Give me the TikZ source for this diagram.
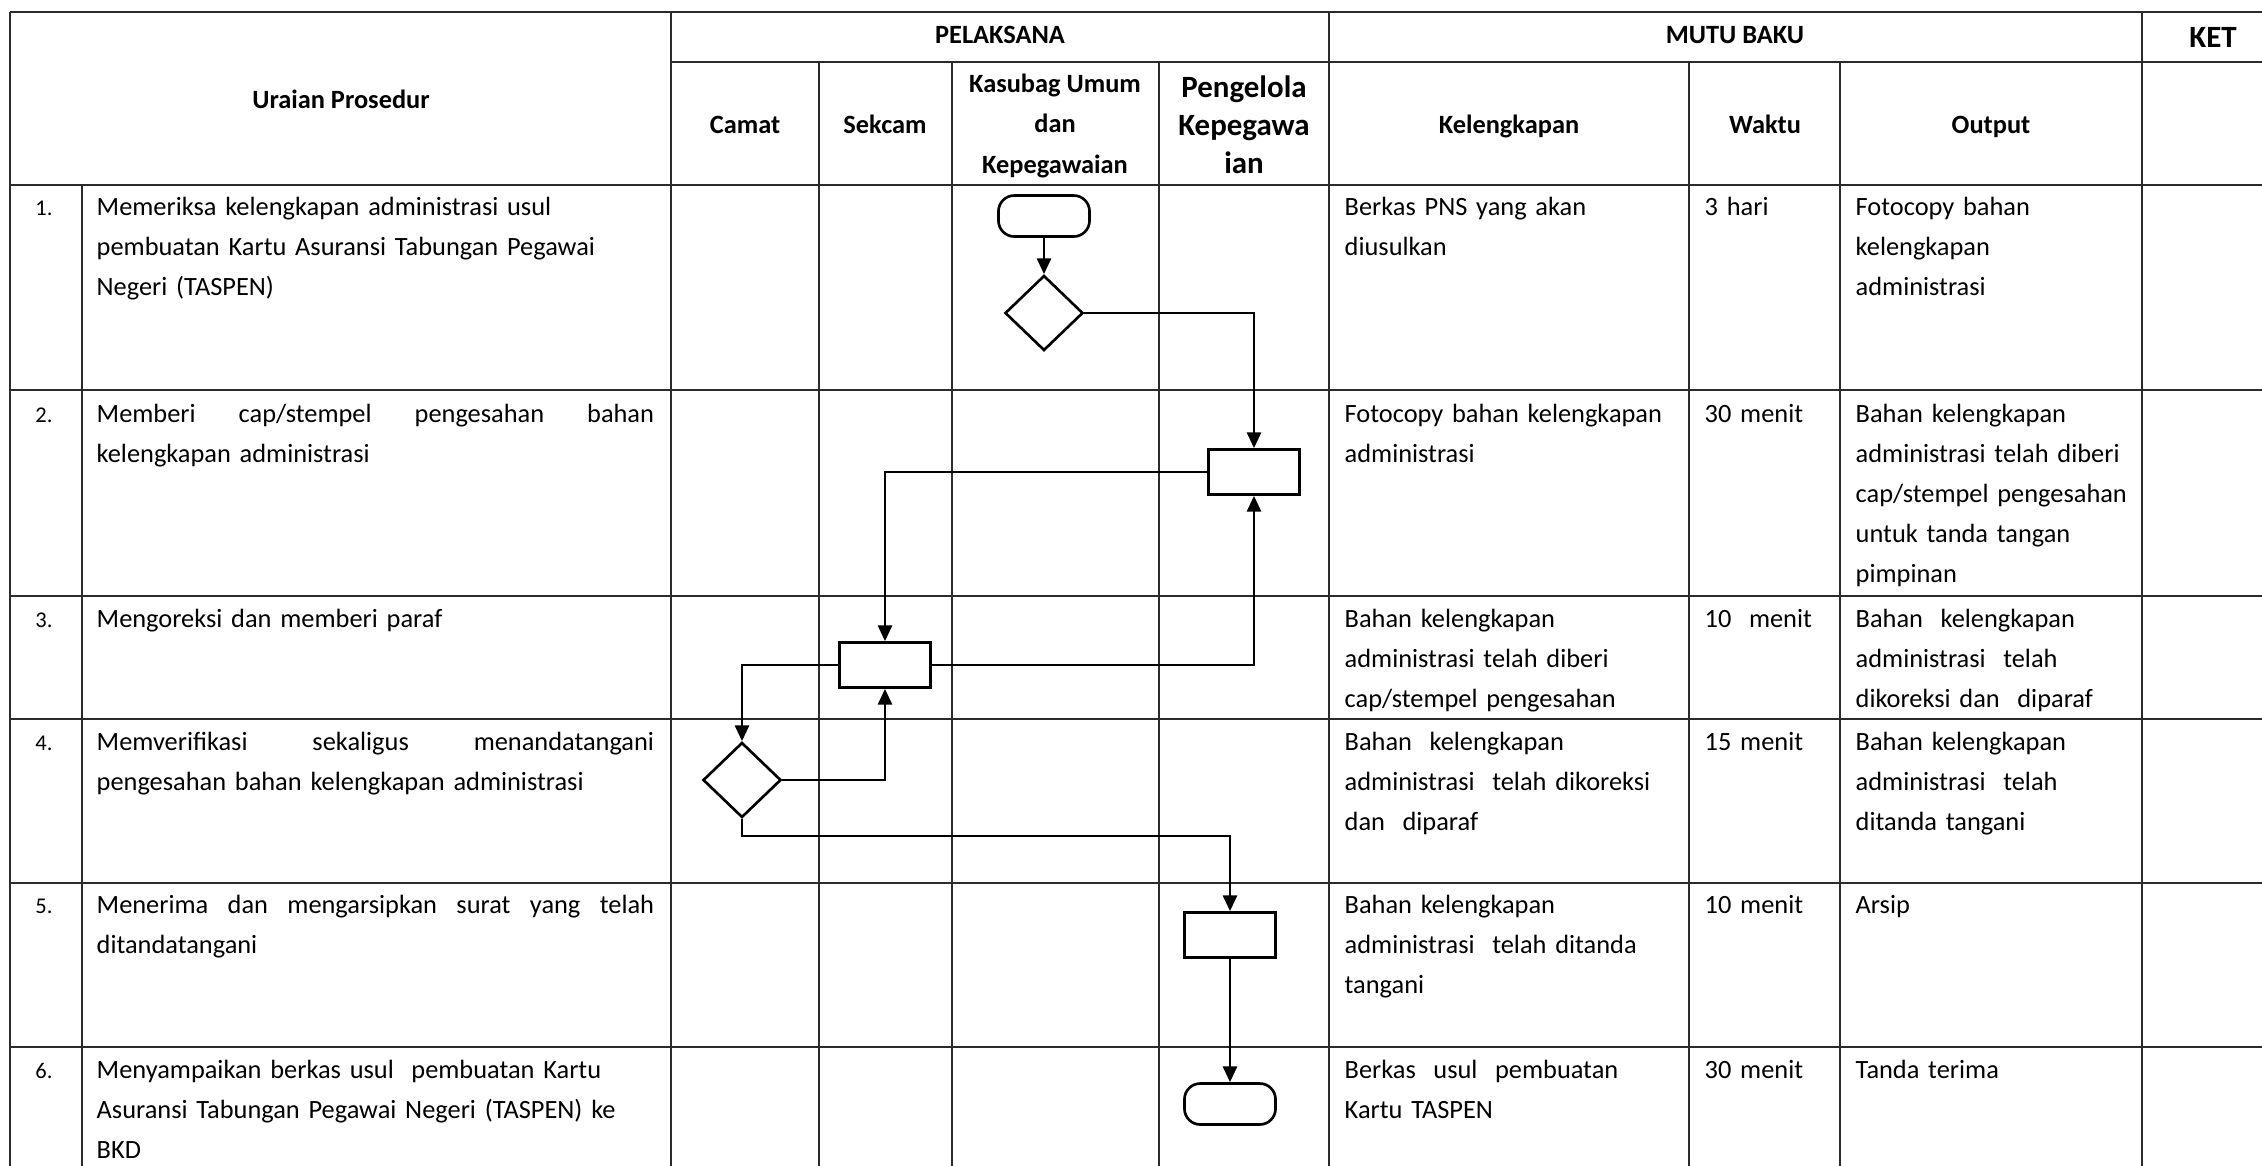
\documentclass[tikz,border=0pt]{standalone}
\usepackage{fontspec}
\setmainfont{Carlito}
\usepackage{tikz}
\usetikzlibrary{arrows.meta,shapes.geometric}
\definecolor{sopInk}{HTML}{000000}
\definecolor{sopGrid}{HTML}{2B2B2B}
\tikzset{
  gridline/.style={
    draw=sopGrid,
    line width=0.5pt
  },
  terminal/.style={
    rectangle,
    rounded corners=4.5pt,
    draw=sopInk,
    fill=white,
    line width=0.75pt,
    minimum width=9.1mm,
    minimum height=4.1mm,
    inner sep=0pt
  },
  process/.style={
    rectangle,
    draw=sopInk,
    fill=white,
    line width=0.75pt,
    minimum width=9.1mm,
    minimum height=4.5mm,
    inner sep=0pt
  },
  decision/.style={
    diamond,
    draw=sopInk,
    fill=white,
    line width=0.75pt,
    minimum width=7.8mm,
    minimum height=7.5mm,
    inner sep=0pt
  },
  arrow/.style={
    -{Triangle[length=4.5pt,width=4pt]},
    line width=0.75pt,
    draw=sopInk
  },
  headtext/.style={
    anchor=base,
    align=center,
    inner sep=0pt,
    font=\bfseries\fontsize{7.5}{11.4}\selectfont
  },
  headbig/.style={
    anchor=base,
    align=center,
    inner sep=0pt,
    font=\bfseries\fontsize{8.8}{10.8}\selectfont
  },
  celltext/.style={
    anchor=base west,
    align=left,
    inner sep=0pt,
    font=\fontsize{7.5}{11.38}\selectfont
  },
  prosedur/.style={
    celltext,
    text width=55.7mm
  },
  kelengkapan/.style={
    celltext,
    text width=33mm
  },
  waktu/.style={
    celltext,
    text width=13mm
  },
  output/.style={
    celltext,
    text width=28mm
  },
  nomor/.style={
    anchor=base,
    inner sep=0pt,
    font=\fontsize{6.4}{11.38}\selectfont
  }
}

\begin{document}
\begin{tikzpicture}[x=0.01cm,y=-0.01cm]
  \useasboundingbox (0,0) rectangle (2262,1166);
  \clip (0,0) rectangle (2262,1166);

  \draw[gridline] (10,12) -- (2290,12);
  \draw[gridline] (671,62) -- (2290,62);
  \draw[gridline] (10,185) -- (2290,185);
  \draw[gridline] (10,390) -- (2290,390);
  \draw[gridline] (10,596) -- (2290,596);
  \draw[gridline] (10,719) -- (2290,719);
  \draw[gridline] (10,883) -- (2290,883);
  \draw[gridline] (10,1047) -- (2290,1047);
  \draw[gridline] (10,12) -- (10,1200);
  \draw[gridline] (82,185) -- (82,1200);
  \draw[gridline] (671,12) -- (671,1200);
  \draw[gridline] (819,62) -- (819,1200);
  \draw[gridline] (952,62) -- (952,1200);
  \draw[gridline] (1159,62) -- (1159,1200);
  \draw[gridline] (1329,12) -- (1329,1200);
  \draw[gridline] (1689,62) -- (1689,1200);
  \draw[gridline] (1840,62) -- (1840,1200);
  \draw[gridline] (2142,12) -- (2142,1200);

  \node[headtext] (hUraian) at (341,108) {Uraian Prosedur};
  \node[headtext] (hPelaksana) at (1000,43) {PELAKSANA};
  \node[headtext] (hMutu) at (1735,43) {MUTU BAKU};
  \node[headbig] (hKet) at (2213,47) {KET};
  \node[headtext] (hCamat) at (745,133) {Camat};
  \node[headtext] (hSekcam) at (885,133) {Sekcam};
  \node[headtext] (hKasubag) at (1055,173) {Kasubag Umum\\dan\\Kepegawaian};
  \node[headbig] (hPengelola) at (1244,173) {Pengelola\\Kepegawa\\ian};
  \node[headtext] (hKelengkapan) at (1509,133) {Kelengkapan};
  \node[headtext] (hWaktu) at (1765,133) {Waktu};
  \node[headtext] (hOutput) at (1991,133) {Output};

  \node[nomor] (no1) at (44,215) {1.};
  \node[nomor] (no2) at (44,422) {2.};
  \node[nomor] (no3) at (44,627) {3.};
  \node[nomor] (no4) at (44,750) {4.};
  \node[nomor] (no5) at (44,913) {5.};
  \node[nomor] (no6) at (44,1078) {6.};

  \node[prosedur] (uraian1) at (96,215) {Memeriksa kelengkapan administrasi usul\\pembuatan Kartu Asuransi Tabungan Pegawai\\Negeri (TASPEN)};
  \node[prosedur] (uraian2) at (96,422) {Memberi\hfill cap/stempel\hfill pengesahan\hfill bahan\\kelengkapan administrasi};
  \node[prosedur] (uraian3) at (96,627) {Mengoreksi dan memberi paraf};
  \node[prosedur] (uraian4) at (96,750) {Memverifikasi\hfill sekaligus\hfill menandatangani\\pengesahan bahan kelengkapan administrasi};
  \node[prosedur] (uraian5) at (96,913) {Menerima\hfill dan\hfill mengarsipkan\hfill surat\hfill yang\hfill telah\hspace{11\unitlength}\\ditandatangani};
  \node[prosedur] (uraian6) at (96,1078) {Menyampaikan berkas usul\ \ pembuatan Kartu\\Asuransi Tabungan Pegawai Negeri (TASPEN) ke\\BKD};

  \node[kelengkapan] (kel1) at (1344,215) {Berkas PNS yang akan\\diusulkan};
  \node[kelengkapan] (kel2) at (1344,422) {Fotocopy bahan kelengkapan\\administrasi};
  \node[kelengkapan] (kel3) at (1344,627) {Bahan kelengkapan\\administrasi telah diberi\\cap/stempel pengesahan};
  \node[kelengkapan] (kel4) at (1344,750) {Bahan\ \ kelengkapan\\administrasi\ \ telah dikoreksi\\dan\ \ diparaf};
  \node[kelengkapan] (kel5) at (1344,913) {Bahan kelengkapan\\administrasi\ \ telah ditanda\\tangani};
  \node[kelengkapan] (kel6) at (1344,1078) {Berkas\ \ usul\ \ pembuatan\\Kartu TASPEN};

  \node[waktu] (waktu1) at (1704,215) {3 hari};
  \node[waktu] (waktu2) at (1704,422) {30 menit};
  \node[waktu] (waktu3) at (1704,627) {10\ \ menit};
  \node[waktu] (waktu4) at (1704,750) {15 menit};
  \node[waktu] (waktu5) at (1704,913) {10 menit};
  \node[waktu] (waktu6) at (1704,1078) {30 menit};

  \node[output] (out1) at (1855,215) {Fotocopy bahan\\kelengkapan\\administrasi};
  \node[output] (out2) at (1855,422) {Bahan kelengkapan\\administrasi telah diberi\\cap/stempel pengesahan\\untuk tanda tangan\\pimpinan};
  \node[output] (out3) at (1855,627) {Bahan\ \ kelengkapan\\administrasi\ \ telah\\dikoreksi dan\ \ diparaf};
  \node[output] (out4) at (1855,750) {Bahan kelengkapan\\administrasi\ \ telah\\ditanda tangani};
  \node[output] (out5) at (1855,913) {Arsip};
  \node[output] (out6) at (1855,1078) {Tanda terima};

  \node[terminal] (start) at (1044,216) {};
  \node[decision] (check) at (1044,313) {};
  \node[process] (stamp) at (1254,472) {};
  \node[process] (paraf) at (885,665) {};
  \node[decision] (sign) at (742,780) {};
  \node[process] (archive) at (1230,935) {};
  \node[terminal] (finish) at (1230,1104) {};

  \draw[arrow] (start) -- (check);
  \draw[arrow] (check.east) -| (stamp.north);
  \draw[arrow] (stamp.west) -| (paraf.north);
  \draw[arrow] (paraf.east) -| (stamp.south);
  \draw[arrow] (paraf.west) -| (sign.north);
  \draw[arrow] (sign.east) -| (paraf.south);
  \draw[arrow] (sign.south) -- ++(0,17) -| (archive.north);
  \draw[arrow] (archive) -- (finish);
\end{tikzpicture}
\end{document}
